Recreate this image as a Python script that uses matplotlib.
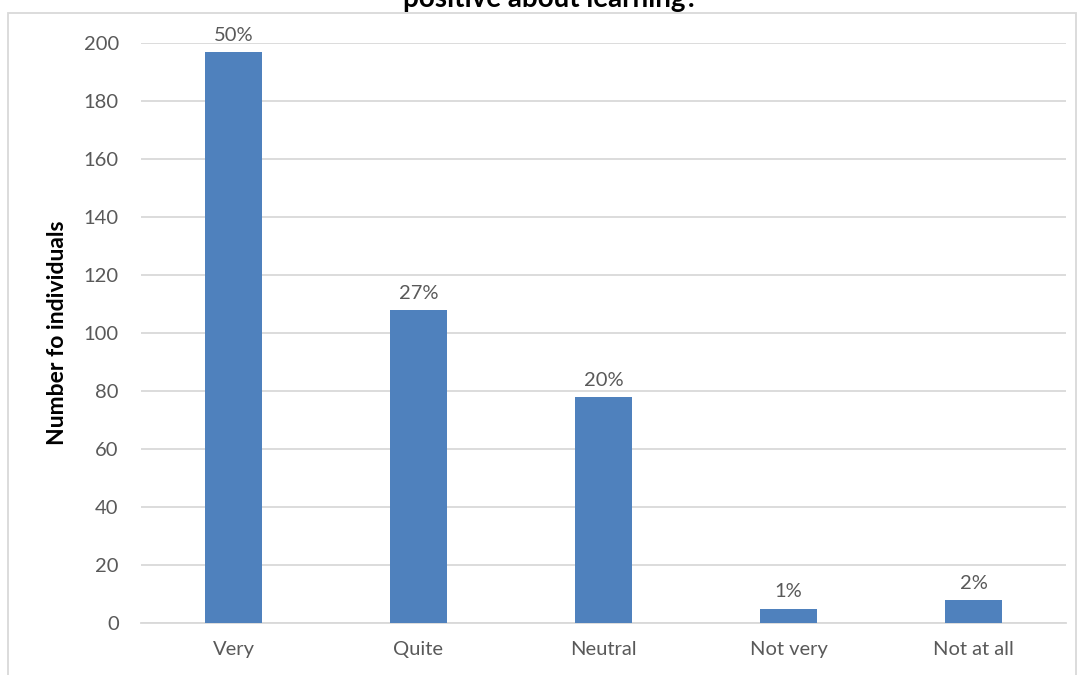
import matplotlib
matplotlib.use('Agg')
import matplotlib.pyplot as plt
from matplotlib.patches import Rectangle

plt.rcParams['font.family'] = ['Lato', 'DejaVu Sans']

categories = ['Very', 'Quite', 'Neutral', 'Not very', 'Not at all']
counts = [197, 108, 78, 5, 8]
y_ticks = [0, 20, 40, 60, 80, 100, 120, 140, 160, 180, 200]

bar_color = '#4f81bd'
grid_color = '#d9d9d9'
text_color = '#595959'

fig = plt.figure(figsize=(10.82, 6.75), dpi=100)
ax = fig.add_axes([0.1303, 0.0770, 0.8549, 0.8593])

# chart area frame
fig.patches.append(Rectangle((8 / 1082, -0.05), 1068 / 1082, 1.05 - 13 / 675,
                             transform=fig.transFigure, fill=False,
                             edgecolor=grid_color, linewidth=1.3))

x = range(len(categories))
bars = ax.bar(x, counts, width=0.31, color=bar_color, zorder=3)

total = sum(counts)
for xi, v in zip(x, counts):
    ax.annotate(f'{round(v / total * 100)}%', (xi, v), xytext=(0, 8),
                textcoords='offset points', ha='center', va='baseline',
                fontsize=14.5, color=text_color, annotation_clip=False)

ax.set_xlim(-0.5, len(categories) - 0.5)
ax.set_ylim(0, 200)
ax.set_yticks(y_ticks)
ax.set_xticks(list(x))
ax.set_xticklabels(categories)
ax.yaxis.grid(True, color=grid_color, linewidth=1.3, zorder=0)
for side in ['top', 'right', 'left']:
    ax.spines[side].set_visible(False)
ax.spines['bottom'].set_color(grid_color)
ax.spines['bottom'].set_linewidth(1.3)
ax.tick_params(length=0, labelsize=14.5, labelcolor=text_color)
ax.tick_params(axis='y', pad=16)
ax.tick_params(axis='x', pad=13)

ax.set_ylabel('Number fo individuals', fontsize=16.5, fontweight='bold',
              color='black', labelpad=11)

# second line of the title; the first sits above the canvas
fig.text(551 / 1082, 1 - 7 / 675, 'positive about learning?', ha='center',
         va='baseline', fontsize=20, fontweight='bold')

fig.savefig('out.png', dpi=100)
